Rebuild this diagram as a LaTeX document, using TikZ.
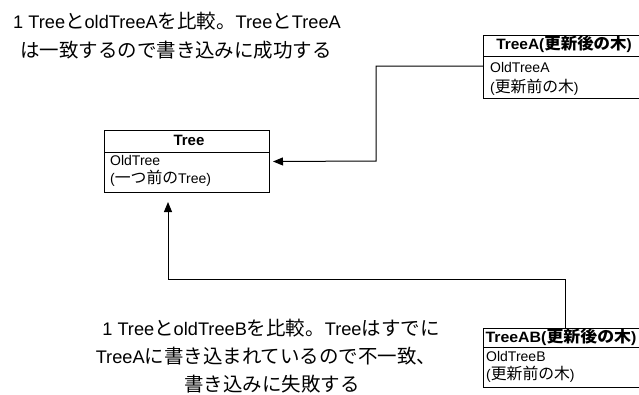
\documentclass[tikz,border=0pt]{standalone}
\usepackage{fontspec}
\setmainfont{Liberation Sans}
\newfontfamily\jpbig{Noto Sans CJK JP}[Scale=1.07]
\newfontfamily\jpbd{Noto Sans CJK JP}[Scale=1.13]
\newfontfamily\jphd{Noto Sans CJK JP}[Scale=1.065]
\newcommand\J[1]{{\jpcur #1}}
\let\jpcur\jpbig
\usetikzlibrary{arrows.meta}
\begin{document}
\begin{tikzpicture}[x=1pt,y=-1pt,
 box/.style={draw=black, line width=1pt, minimum width=#1, anchor=north west, inner sep=0pt},
 rule/.style={draw=black, line width=1pt},
 arr/.style={draw=black, line width=1pt, -{Triangle[length=10pt,width=8pt]}},
 big/.style={font=\fontsize{18.2}{20}\selectfont\let\jpcur\jpbig, inner sep=0pt, anchor=base},
 hd/.style={font=\bfseries\fontsize{15}{17}\selectfont\let\jpcur\jphd, inner sep=0pt, anchor=base},
 bd/.style={font=\fontsize{14}{16}\selectfont\let\jpcur\jpbd, inner sep=0pt, anchor=base west},
]
\useasboundingbox (0,0) rectangle (639,394);
% boxes
\node[box=165pt, minimum height=62pt] (tree) at (104,130) {};
\node[box=170pt, minimum height=63pt] (treeA) at (483,35) {};
\node[box=170pt, minimum height=59pt] (treeAB) at (483,328) {};
\draw[rule] ([yshift=-22pt]tree.north west) -- ([yshift=-22pt]tree.north east);
\draw[rule] ([yshift=-21pt]treeA.north west) -- ([yshift=-21pt]treeA.north east);
\draw[rule] ([yshift=-19pt]treeAB.north west) -- ([yshift=-19pt]treeAB.north east);
% box texts
\node[hd] (treeH) at (189,145) {Tree};
\node[bd] (treeB1) at (110,165) {OldTree};
\node[bd] (treeB2) at (110,183) {(\J{一つ前の}Tree)};
\node[hd] (treeAH) at (564,49) {\scalebox{1.03}[1]{TreeA(\J{更新後の木})}};
\node[bd] (treeAB1) at (490,72) {OldTreeA};
\node[bd] (treeAB2) at (490,92) {(\J{更新前の木})};
\node[hd] (treeABH) at (561,342) {\scalebox{1.06}[1]{TreeAB(\J{更新後の木})}};
\node[bd] (treeABB1) at (486,361) {OldTreeB};
\node[bd] (treeABB2) at (486,379) {(\J{更新前の木})};
% big texts
\node[big] (t1a) at (177,28) {1 Tree\J{と}oldTreeA\J{を比較。}Tree\J{と}TreeA};
\node[big] (t1b) at (176,57) {\J{は一致するので書き込みに成功する}};
\node[big] (t2a) at (271,335) {1 Tree\J{と}oldTreeB\J{を比較。}Tree\J{はすでに}};
\node[big] (t2b) at (266,363) {TreeA\J{に書き込まれているので不一致、}};
\node[big] (t2c) at (272,391) {\J{書き込みに失敗する}};
% connectors
\draw[arr] ([yshift=-31pt]treeA.north west) -- (376,66) -- (376,161) -- ([xshift=3pt]tree.east);
\draw[arr] ([xshift=82pt]treeAB.north west) -- (565,279) -- (168,279) -- ([xshift=64pt,yshift=-9pt]tree.south west);
\end{tikzpicture}
\end{document}
